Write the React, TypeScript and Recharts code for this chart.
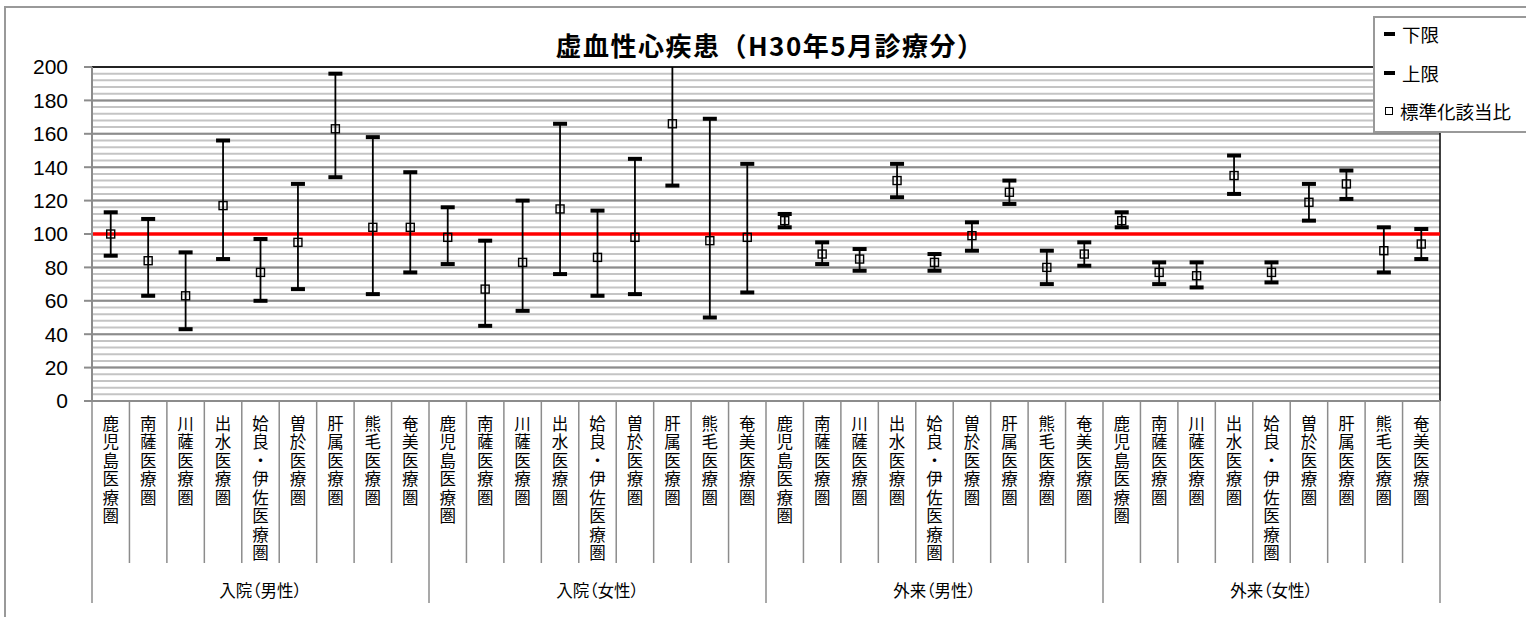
import React from 'react';
import { ComposedChart, Line, ErrorBar, XAxis, YAxis, CartesianGrid, ReferenceLine } from 'recharts';

const areas = ['鹿児島医療圏', '南薩医療圏', '川薩医療圏', '出水医療圏', '姶良・伊佐医療圏', '曽於医療圏', '肝属医療圏', '熊毛医療圏', '奄美医療圏'];
const groups = ['入院（男性）', '入院（女性）', '外来（男性）', '外来（女性）'];

// 下限 / 標準化該当比 / 上限, one row of 9 per group
const lower = [
  87, 63, 43, 85, 60, 67, 134, 64, 77,
  82, 45, 54, 76, 63, 64, 129, 50, 65,
  104, 82, 78, 122, 78, 90, 118, 70, 81,
  104, 70, 68, 124, 71, 108, 121, 77, 85,
];
const ratio = [
  100, 84, 63, 117, 77, 95, 163, 104, 104,
  98, 67, 83, 115, 86, 98, 166, 96, 98,
  108, 88, 85, 132, 83, 99, 125, 80, 88,
  108, 77, 75, 135, 77, 119, 130, 90, 94,
];
const upper = [
  113, 109, 89, 156, 97, 130, 196, 158, 137,
  116, 96, 120, 166, 114, 145, 212, 169, 142,
  112, 95, 91, 142, 88, 107, 132, 90, 95,
  113, 83, 83, 147, 83, 130, 138, 104, 103,
];

const yTicks = [0, 20, 40, 60, 80, 100, 120, 140, 160, 180, 200];
const Y_MAX = 200;
const MINOR_STEP = 4;
const minorTicks = Array.from({ length: Y_MAX / MINOR_STEP + 1 }, (_, i) => i * MINOR_STEP);

const W = 1526;
const H = 617;
const MARGIN = { top: 67, right: 86, left: 0, bottom: 0 };
const Y_AXIS_W = 92;
const X_AXIS_H = 216;
const BAND = (W - MARGIN.right - Y_AXIS_W) / (areas.length * groups.length);

const JP = '"Noto Sans CJK JP", "Noto Sans", sans-serif';
const GRID_MINOR = '#c4c4c4';
const GRID_MAJOR = '#8c8c8c';

const data = groups.flatMap((group, gi) =>
  areas.map((area, ai) => {
    const i = gi * areas.length + ai;
    return {
      idx: i,
      area,
      group,
      lower: lower[i],
      upper: upper[i],
      ratio: ratio[i],
      // the stem is cut at the top of the plot, like the clipped bar in the original
      err: [ratio[i] - lower[i], Math.min(upper[i], Y_MAX) - ratio[i]],
    };
  })
);

function CategoryTick(props: any) {
  const { x, y, payload } = props;
  const i = Number(payload.value);
  const ai = i % areas.length;
  const gi = Math.floor(i / areas.length);
  const left = x - BAND / 2;
  const last = i === data.length - 1;
  return (
    <g>
      <line x1={left} x2={left} y1={y} y2={ai === 0 ? y + 202 : y + 162} stroke={GRID_MAJOR} strokeWidth={1.5} />
      {last && <line x1={x + BAND / 2} x2={x + BAND / 2} y1={y} y2={y + 202} stroke={GRID_MAJOR} strokeWidth={1.5} />}
      <text x={x} y={y + 14} fontSize={16.5} fontFamily={JP} fill="#000" letterSpacing={2}
        style={{ writingMode: 'vertical-rl', textOrientation: 'upright' } as any}>{areas[ai]}</text>
      {ai === 4 && (
        <text x={x} y={y + 189} textAnchor="middle" dominantBaseline="central" fontSize={16.5}
          fontFamily={JP} fill="#000" style={{ fontFeatureSettings: '"palt"' }}>{groups[gi]}</text>
      )}
    </g>
  );
}

const capDot = (props: any) => {
  const { cx, cy, value, index } = props;
  if (cx == null || cy == null || value > Y_MAX) return <g key={`c${index}`} />;
  return <rect key={`c${index}`} x={cx - 7} y={cy - 2} width={14} height={4} fill="#000" />;
};

const squareDot = (props: any) => {
  const { cx, cy, index } = props;
  if (cx == null || cy == null) return <g key={`s${index}`} />;
  return <rect key={`s${index}`} x={cx - 4} y={cy - 4} width={8} height={8} fill="none" stroke="#000" strokeWidth={1.4} />;
};

const legendItems = [
  { name: '下限', kind: 'dash' },
  { name: '上限', kind: 'dash' },
  { name: '標準化該当比', kind: 'square' },
];

export default function App() {
  return (
    <div style={{ position: 'absolute', left: 0, top: 0, width: W, height: H, overflow: 'hidden', background: '#fff' }}>
      <div style={{ position: 'absolute', left: 4, top: 6, width: W + 40, height: H + 40, border: '2px solid #999' }} />
      <div style={{ position: 'absolute', left: 0, top: 0 }}>
        <ComposedChart width={W} height={H} data={data} margin={MARGIN}>
          <CartesianGrid vertical={false} horizontalValues={minorTicks} stroke={GRID_MINOR} strokeWidth={2} />
          <CartesianGrid vertical={false} horizontalValues={yTicks} stroke={GRID_MAJOR} strokeWidth={2} />
          <XAxis dataKey="idx" type="category" scale="band" interval={0} height={X_AXIS_H}
            tickSize={0} tickMargin={0} tickLine={false}
            axisLine={{ stroke: GRID_MAJOR, strokeWidth: 2 }}
            tick={(p: any) => <CategoryTick {...p} />} />
          <YAxis domain={[0, Y_MAX]} ticks={yTicks} allowDataOverflow interval={0} width={Y_AXIS_W}
            tickSize={8} tickMargin={16}
            axisLine={{ stroke: GRID_MAJOR, strokeWidth: 2 }}
            tickLine={{ stroke: GRID_MAJOR, strokeWidth: 2 }}
            tick={{ fill: '#000', fontSize: 21, fontFamily: '"Liberation Sans", sans-serif' }} />
          <ReferenceLine y={Y_MAX} stroke="#000" strokeWidth={1.5} />
          <ReferenceLine x={data.length - 1} position="end" stroke="#000" strokeWidth={1.5} />
          <ReferenceLine y={100} stroke="#ff0000" strokeWidth={3.5} />
          <Line dataKey="ratio" name="標準化該当比" stroke="none" strokeWidth={0} dot={squareDot}
            activeDot={false} legendType="none" isAnimationActive={false}>
            <ErrorBar dataKey="err" direction="y" width={0} stroke="#000" strokeWidth={1.8} isAnimationActive={false} />
          </Line>
          <Line dataKey="lower" name="下限" stroke="none" strokeWidth={0} dot={capDot}
            activeDot={false} legendType="none" isAnimationActive={false} />
          <Line dataKey="upper" name="上限" stroke="none" strokeWidth={0} dot={capDot}
            activeDot={false} legendType="none" isAnimationActive={false} />
        </ComposedChart>
      </div>
      <div style={{
        position: 'absolute', left: 420, top: 28, width: 700, textAlign: 'center',
        fontFamily: JP, fontWeight: 700, fontSize: 26, lineHeight: '34px', color: '#000',
        letterSpacing: 1.5,
      }}>
        虚血性心疾患（H30年5月診療分）
      </div>
      <div style={{
        position: 'absolute', left: 1373, top: 16, width: 170, height: 113,
        border: '2px solid #999', background: '#fff', fontFamily: JP, fontSize: 18.5, color: '#000',
      }}>
        {legendItems.map((it, k) => (
          <div key={it.name} style={{ position: 'absolute', left: 9, top: 3 + k * 38.5, height: 26, display: 'flex', alignItems: 'center' }}>
            {it.kind === 'dash'
              ? <span style={{ display: 'inline-block', width: 11, height: 4, background: '#000', marginRight: 7 }} />
              : <span style={{ display: 'inline-block', width: 6, height: 6, border: '1.5px solid #000', marginRight: 7, marginLeft: 1 }} />}
            <span>{it.name}</span>
          </div>
        ))}
      </div>
    </div>
  );
}
